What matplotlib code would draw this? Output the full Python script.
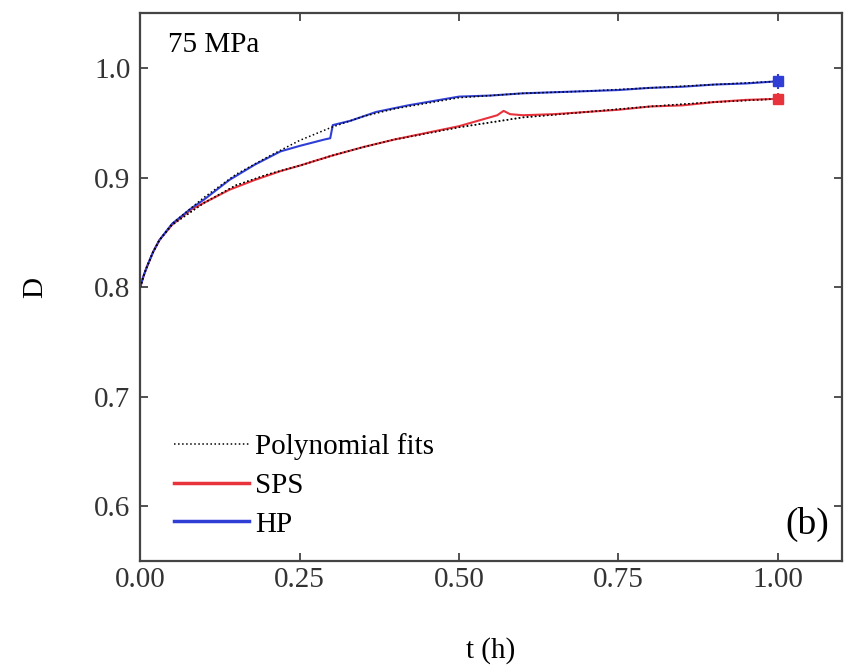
import numpy as np
import matplotlib
matplotlib.use('Agg')
import matplotlib.pyplot as plt

plt.rcParams['font.family'] = ['Liberation Serif', 'DejaVu Serif']

# HP data (blue)
t_hp = [0, 0.005, 0.01, 0.02, 0.03, 0.05, 0.08, 0.10, 0.12, 0.14, 0.16, 0.18, 0.20, 0.22, 0.25,
        0.27, 0.29, 0.298, 0.302, 0.33, 0.37, 0.42, 0.47, 0.50, 0.55, 0.60, 0.65, 0.70, 0.75,
        0.80, 0.85, 0.90, 0.95, 1.00]
d_hp = [0.800, 0.810, 0.818, 0.832, 0.843, 0.858, 0.872, 0.880, 0.889, 0.898, 0.905, 0.912, 0.918,
        0.924, 0.929, 0.932, 0.935, 0.936, 0.948, 0.952, 0.960, 0.966, 0.971, 0.974, 0.975,
        0.977, 0.978, 0.979, 0.980, 0.982, 0.983, 0.985, 0.986, 0.988]

# SPS data (red)
t_sps = [0, 0.005, 0.01, 0.02, 0.03, 0.05, 0.08, 0.10, 0.14, 0.18, 0.22, 0.25, 0.30, 0.35, 0.40,
         0.45, 0.50, 0.53, 0.56, 0.57, 0.58, 0.60, 0.65, 0.70, 0.75, 0.80, 0.85, 0.90, 0.95, 1.00]
d_sps = [0.800, 0.810, 0.818, 0.832, 0.843, 0.857, 0.871, 0.877, 0.889, 0.898, 0.906, 0.911, 0.920,
         0.928, 0.935, 0.941, 0.947, 0.952, 0.957, 0.961, 0.958, 0.957, 0.958, 0.960, 0.962,
         0.965, 0.966, 0.969, 0.971, 0.972]

# polynomial fits
t_fit = [0, 0.005, 0.01, 0.02, 0.03, 0.05, 0.10, 0.15, 0.20, 0.25, 0.30, 0.35, 0.40, 0.50,
         0.60, 0.70, 0.80, 0.90, 1.00]
fit_hp = [0.800, 0.810, 0.818, 0.832, 0.843, 0.858, 0.882, 0.903, 0.919, 0.934, 0.946, 0.956,
          0.963, 0.973, 0.977, 0.979, 0.982, 0.985, 0.988]
fit_sps = [0.800, 0.810, 0.818, 0.832, 0.843, 0.857, 0.877, 0.893, 0.903, 0.911, 0.920, 0.928,
           0.935, 0.946, 0.955, 0.960, 0.965, 0.969, 0.972]

# end points with error bars
t_end = 1.0
d_end_hp, err_hp = 0.988, 0.007
d_end_sps, err_sps = 0.972, 0.005

red = '#e8323c'
blue = '#2f3fd6'

fig = plt.figure(figsize=(8.5, 6.68), dpi=100)
ax = fig.add_axes([0.165, 0.16, 0.825, 0.82])

ax.plot(t_fit, fit_sps, ':', color='k', lw=1.1, label='Polynomial fits')
ax.plot(t_sps, d_sps, color=red, lw=1.5, label='SPS')
ax.plot(t_hp, d_hp, color=blue, lw=1.5, label='HP')
ax.plot(t_fit, fit_hp, ':', color='k', lw=1.1)
ax.plot(t_fit, fit_sps, ':', color='k', lw=1.1)

ax.errorbar([t_end], [d_end_sps], yerr=[err_sps], fmt='s', color=red, ms=7, capsize=0, elinewidth=1.5)
ax.errorbar([t_end], [d_end_hp], yerr=[err_hp], fmt='s', color=blue, ms=7, capsize=0, elinewidth=1.5)

ax.set_xlim(0, 1.1)
ax.set_ylim(0.55, 1.05)
ax.set_xticks([0, 0.25, 0.5, 0.75, 1.0])
ax.set_xticklabels(['0.00', '0.25', '0.50', '0.75', '1.00'])
ax.set_yticks([0.6, 0.7, 0.8, 0.9, 1.0])
ax.set_yticklabels(['0.6', '0.7', '0.8', '0.9', '1.0'])
ax.tick_params(direction='in', top=True, right=True, length=6, width=1.2,
               labelsize=21, colors='#333333', pad=4)
ax.tick_params(axis='y', pad=7)
for s in ax.spines.values():
    s.set_linewidth(1.6)
    s.set_color('#444444')

ax.set_xlabel('t (h)', fontsize=21, labelpad=32)
ax.set_ylabel('D', fontsize=21, labelpad=33)

ax.text(0.04, 0.93, '75 MPa', transform=ax.transAxes, fontsize=21)
ax.text(0.982, 0.05, '(b)', transform=ax.transAxes, fontsize=27, ha='right')

leg = ax.legend(loc='lower left', frameon=False, fontsize=21, handlelength=2.6,
                handletextpad=0.2, labelspacing=0.42, bbox_to_anchor=(0.01, -0.005))
for h in leg.get_lines()[1:]:
    h.set_linewidth(2.5)

fig.savefig('out.png', dpi=100)
